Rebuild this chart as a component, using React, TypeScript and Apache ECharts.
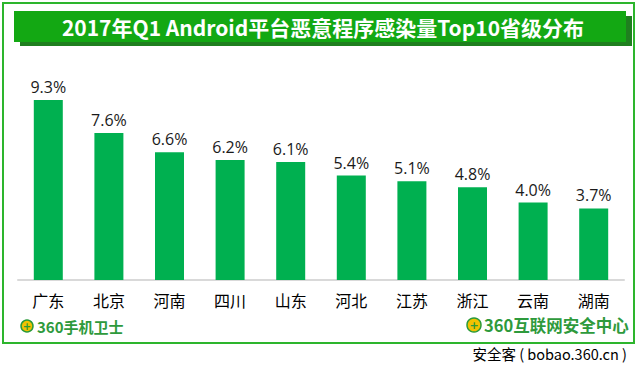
import React, { useEffect, useRef } from "react";
import * as echarts from "echarts";

const titleText = "2017年Q1 Android平台恶意程序感染量Top10省级分布";
const provinces = ["广东", "北京", "河南", "四川", "山东", "河北", "江苏", "浙江", "云南", "湖南"];
const shares = [9.3, 7.6, 6.6, 6.2, 6.1, 5.4, 5.1, 4.8, 4.0, 3.7];
const leftBrand = "360手机卫士";
const rightBrand = "360互联网安全中心";
const sourceText = "安全客 ( bobao.360.cn )";

export default function App() {
  const ref = useRef<HTMLDivElement>(null);
  useEffect(() => {
    if (!ref.current) return;
    const chart = echarts.init(ref.current, null, { renderer: "svg" });
    chart.setOption({
      animation: false,
      backgroundColor: "#ffffff",
      grid: { left: 18, right: 16, top: 84, bottom: 92, containLabel: false },
      xAxis: {
        type: "category",
        data: provinces,
        axisLine: { lineStyle: { color: "#d9d9d9", width: 2 } },
        axisTick: { show: false },
        axisLabel: {
          color: "#000000",
          fontSize: 16,
          fontFamily: "Noto Sans CJK SC",
          margin: 12,
        },
      },
      yAxis: {
        type: "value",
        min: 0,
        max: 10.13,
        show: false,
        splitLine: { show: false },
      },
      series: [
        {
          type: "bar",
          data: shares,
          barWidth: 29,
          itemStyle: { color: "#00b050" },
          label: {
            show: true,
            position: "top",
            distance: 5,
            color: "#1a1a1a",
            fontSize: 16,
            fontFamily: "Open Sans",
            formatter: (p: any) => Number(p.value).toFixed(1) + "%",
          },
        },
      ],
      graphic: [
        {
          type: "rect",
          shape: { x: 3, y: 3, width: 631, height: 340 },
          style: { fill: "none", stroke: "#2db52d", lineWidth: 2 },
          silent: true,
        },
        {
          type: "rect",
          shape: { x: 20, y: 16, width: 612, height: 30 },
          style: { fill: "#1f7f1f" },
        },
        {
          type: "rect",
          shape: { x: 14, y: 11, width: 612, height: 31 },
          style: { fill: "#13a813" },
        },
        {
          type: "text",
          x: 323,
          y: 27,
          style: {
            text: titleText,
            fill: "#ffffff",
            font: "bold 21px 'Noto Sans CJK SC'",
            textAlign: "center",
            textVerticalAlign: "middle",
          },
        },
        {
          type: "circle",
          shape: { cx: 27, cy: 326, r: 6 },
          style: { fill: "#f2c200", stroke: "#2a9a3a", lineWidth: 1.5 },
        },
        {
          type: "text",
          x: 27,
          y: 326,
          style: {
            text: "+",
            fill: "#2a9a3a",
            font: "bold 10px 'DejaVu Sans'",
            textAlign: "center",
            textVerticalAlign: "middle",
          },
        },
        {
          type: "text",
          x: 37,
          y: 326,
          style: {
            text: leftBrand,
            fill: "#2e9a3c",
            font: "bold 15px 'Noto Sans CJK SC'",
            textAlign: "left",
            textVerticalAlign: "middle",
          },
        },
        {
          type: "circle",
          shape: { cx: 474, cy: 325, r: 7 },
          style: { fill: "#f2c200", stroke: "#2a9a3a", lineWidth: 1.5 },
        },
        {
          type: "text",
          x: 474,
          y: 325,
          style: {
            text: "+",
            fill: "#2a9a3a",
            font: "bold 11px 'DejaVu Sans'",
            textAlign: "center",
            textVerticalAlign: "middle",
          },
        },
        {
          type: "text",
          x: 484,
          y: 325,
          style: {
            text: rightBrand,
            fill: "#2e9a3c",
            font: "bold 16.5px 'Noto Sans CJK SC'",
            textAlign: "left",
            textVerticalAlign: "middle",
          },
        },
        {
          type: "text",
          x: 627,
          y: 353,
          style: {
            text: sourceText,
            fill: "#000000",
            font: "14.5px 'Noto Sans CJK SC'",
            textAlign: "right",
            textVerticalAlign: "middle",
          },
        },
      ],
    });
    return () => chart.dispose();
  }, []);
  return (
    <div
      ref={ref}
      style={{ position: "fixed", left: 0, top: 0, width: 640, height: 372 }}
    />
  );
}
